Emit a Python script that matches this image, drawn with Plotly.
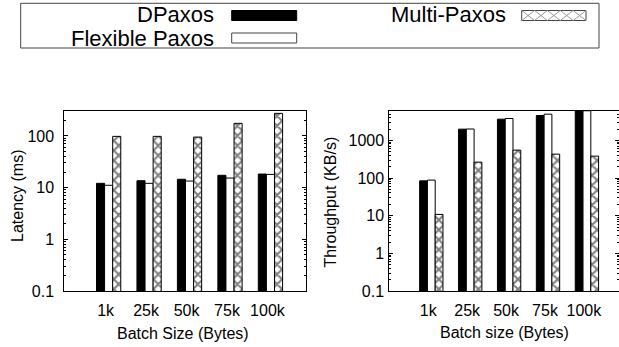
import plotly.graph_objects as go

# ---- data ----
categories = ["1k", "25k", "50k", "75k", "100k"]
series_names = ["DPaxos", "Flexible Paxos", "Multi-Paxos"]

latency_dpaxos = [12.1, 13.6, 14.5, 17.3, 18.3]
latency_flexible = [11.1, 12.1, 13.4, 15.3, 18.0]
latency_multi = [98, 98, 95, 175, 273]

throughput_dpaxos = [84, 1980, 3650, 4570, 6100]
throughput_flexible = [88, 2000, 3800, 4950, 6100]
throughput_multi = [10.8, 264, 550, 430, 381]

lat_tickvals = [0.1, 1, 10, 100]
lat_ticktext = ["0.1", "1", "10", "100"]
thr_tickvals = [0.1, 1, 10, 100, 1000]
thr_ticktext = ["0.1", "1", "10", "100", "1000"]

W, H = 619, 347
FONT = "Liberation Sans, Arial, sans-serif"


def px(x):
    return x / W


def py(y):
    return 1 - y / H


fig = go.Figure()

styles = [
    dict(color="black", line=dict(color="black", width=1)),
    dict(color="white", line=dict(color="black", width=1)),
    dict(color="white", line=dict(color="black", width=1),
         pattern=dict(shape="x", fgcolor="black", bgcolor="white", size=7, solidity=0.5)),
]

for vals, name, st in zip([latency_dpaxos, latency_flexible, latency_multi], series_names, styles):
    fig.add_trace(go.Bar(x=categories, y=vals, name=name, marker=st,
                         xaxis="x", yaxis="y", showlegend=False))
for vals, name, st in zip([throughput_dpaxos, throughput_flexible, throughput_multi], series_names, styles):
    fig.add_trace(go.Bar(x=categories, y=vals, name=name, marker=st,
                         xaxis="x2", yaxis="y2", showlegend=False))

minor_vals = [m * 10 ** e for e in range(-1, 4) for m in range(2, 10)]

axis_common = dict(showline=True, linecolor="black", linewidth=1, mirror=True,
                   showgrid=False, zeroline=False, automargin=False,
                   tickfont=dict(family=FONT, size=16, color="black"))

xcommon = dict(axis_common, ticks="", type="category", ticklabelshift=-3,
               ticklabelstandoff=5)
ycommon = dict(axis_common, type="log", ticks="inside", ticklen=4, tickcolor="black",
               mirror="allticks",
               minor=dict(tickvals=minor_vals, ticks="inside", ticklen=2, tickcolor="black"))

fig.update_layout(
    width=W, height=H,
    margin=dict(l=0, r=0, t=0, b=0, pad=0, autoexpand=False),
    paper_bgcolor="white", plot_bgcolor="white",
    barmode="group", bargap=0.4, bargroupgap=0,
    font=dict(family=FONT, color="black"),
    xaxis=dict(xcommon, domain=[px(64.3), px(306)], range=[-1.096, 4.879], anchor="y"),
    yaxis=dict(ycommon, domain=[py(291), py(111)], range=[-1, 2.482], anchor="x",
               tickvals=lat_tickvals, ticktext=lat_ticktext, ticklabelstandoff=6),
    xaxis2=dict(xcommon, domain=[px(389.3), 1.0], range=[-1.08, 4.825], anchor="y2"),
    yaxis2=dict(ycommon, domain=[py(291), py(111)], range=[-1, 3.779], anchor="x2",
                tickvals=thr_tickvals, ticktext=thr_ticktext, ticklabelstandoff=1),
)

ann_font = dict(family=FONT, size=16, color="black")
annotations = [
    dict(text="Latency (ms)", x=px(17), y=py(196), textangle=-90, font=ann_font),
    dict(text="Throughput (KB/s)", x=px(329.5), y=py(202), textangle=-90, font=ann_font),
    dict(text="Batch Size (Bytes)", x=px(183), y=py(333), font=ann_font),
    dict(text="Batch size (Bytes)", x=px(504), y=py(332), font=ann_font),
]
leg_font = dict(family=FONT, size=22, color="black")
annotations += [
    dict(text=series_names[0], x=px(215), y=py(14.5), xanchor="right", font=leg_font),
    dict(text=series_names[1], x=px(215), y=py(38.5), xanchor="right", font=leg_font),
    dict(text=series_names[2], x=px(506.7), y=py(14.5), xanchor="right", font=leg_font),
]
for a in annotations:
    a.setdefault("xanchor", "center")
    a.update(xref="paper", yref="paper", yanchor="middle", showarrow=False, borderpad=0)
fig.update_layout(annotations=annotations)

shapes = [
    dict(type="rect", x0=px(20.7), x1=px(599), y0=py(48), y1=py(3.3),
         line=dict(color="#444", width=1), fillcolor="rgba(0,0,0,0)"),
    dict(type="rect", x0=px(231.7), x1=px(296.7), y0=py(20.5), y1=py(10.5),
         line=dict(color="black", width=1), fillcolor="black"),
    dict(type="rect", x0=px(231.7), x1=px(296.7), y0=py(43), y1=py(33),
         line=dict(color="#444", width=1), fillcolor="white"),
    dict(type="rect", x0=px(521.7), x1=px(586), y0=py(20.5), y1=py(10.5),
         line=dict(color="#444", width=1), fillcolor="white"),
]
# cross-hatch for the Multi-Paxos legend sample
hx0, hx1, hy0, hy1 = 521.7, 586, 10.5, 20.5
n = 5
step = (hx1 - hx0) / n
path = ""
for i in range(n):
    a0 = hx0 + i * step
    a1 = a0 + step
    path += f"M{px(a0)},{py(hy0)} L{px(a1)},{py(hy1)} M{px(a0)},{py(hy1)} L{px(a1)},{py(hy0)} "
shapes.append(dict(type="path", path=path, xref="paper", yref="paper",
                   line=dict(color="#999", width=1)))
for s in shapes:
    s.setdefault("xref", "paper")
    s.setdefault("yref", "paper")
fig.update_layout(shapes=shapes)

fig.write_html("out.html")
